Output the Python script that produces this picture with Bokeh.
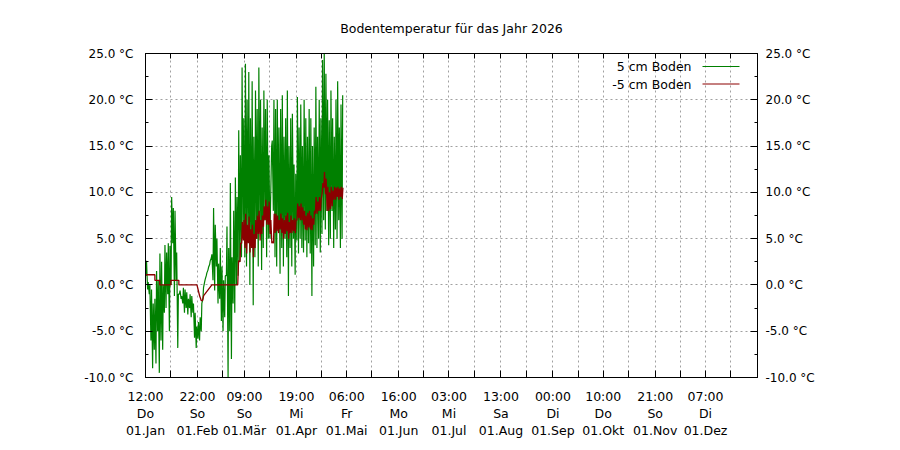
from bokeh.plotting import figure
from bokeh.models import (LinearAxis, FixedTicker, Range1d, Label, Arrow, Grid,
                          ColumnDataSource)
from bokeh.embed import file_html
from bokeh.resources import INLINE

title_text = "Bodentemperatur für das Jahr 2026"

# x axis: day of year (0 = 01.Jan 00:00)
month_days = [0, 31, 59, 90, 120, 151, 181, 212, 243, 273, 304, 334]
mid_days = [15, 46, 74, 105, 135, 166, 196, 227, 258, 288, 319, 349]
tick_labels = [
    "12:00\nDo\n01.Jan", "22:00\nSo\n01.Feb", "09:00\nSo\n01.Mär",
    "19:00\nMi\n01.Apr", "06:00\nFr\n01.Mai", "16:00\nMo\n01.Jun",
    "03:00\nMi\n01.Jul", "13:00\nSa\n01.Aug", "00:00\nDi\n01.Sep",
    "10:00\nDo\n01.Okt", "21:00\nSo\n01.Nov", "07:00\nDi\n01.Dez",
]
y_ticks = [-10, -5, 0, 5, 10, 15, 20, 25]
y_minor = [-7.5, -2.5, 2.5, 7.5, 12.5, 17.5, 22.5]
y_labels = ["-10.0 °C", "-5.0 °C", "0.0 °C", "5.0 °C", "10.0 °C",
            "15.0 °C", "20.0 °C", "25.0 °C"]

series_names = ["5 cm Boden", "-5 cm Boden"]

# 5 cm Boden: daily low / high (day 0 .. 117)
g_lo = [1.0, -0.5, -1.0, -6.0, -9.0, -7.0, -8.5, -5.0, -9.5, -6.0,
        -7.0, -3.0, -2.5, -1.0, -5.0, 0.0, 4.5, -1.2, 0.5, -6.8,
        -1.0, -1.5, -2.0, -3.0, -2.5, -3.2, -2.5, -3.5, -3.0, -5.7,
        -6.8, -5.8, -6.0, -5.0, -1.5, 0.3, 1.0, 1.6, 2.2, 2.9,
        0.5, -0.6, 2.0, -2.0, -1.5, -3.9, -5.0, -3.5, 1.0, -10.0,
        -5.0, -8.0, -2.0, -3.0, 0.0, 1.0, 2.5, 3.0, 5.0, 3.0,
        2.0, 5.0, 0.0, 4.0, -2.2, 3.0, 5.0, 2.0, 6.0, 1.6,
        4.0, 7.0, 3.0, 5.0, 5.0, 15.0, 8.0, 3.0, 2.0, 6.0,
        1.2, 4.0, 2.0, 5.0, 3.0, -1.2, 4.0, 2.0, 5.0, 1.1,
        4.8, 3.4, 5.0, 4.0, 3.5, 4.8, 3.0, 4.5, 3.4, -1.2,
        2.0, 4.3, 4.0, 5.0, 3.5, 5.5, 7.0, 6.0, 8.0, 4.3,
        5.0, 8.0, 4.0, 6.0, 5.0, 7.0, 4.0, 5.0]
g_hi = [2.6, 0.3, 0.0, -0.5, -2.0, -1.5, 1.5, 0.5, 3.4, 2.5,
        0.0, 4.3, 3.5, 4.5, 4.2, 9.5, 8.3, 8.0, 3.5, -1.0,
        -0.6, -1.2, -0.3, -0.5, -0.8, -1.5, -1.0, -1.2, -2.0, -3.0,
        -4.5, -4.0, -3.5, -2.0, -0.3, 0.6, 1.3, 1.9, 2.6, 3.3,
        8.3, 6.5, 5.0, 2.3, 4.0, 2.0, 0.5, 1.0, 6.3, 4.0,
        11.0, 3.0, 8.0, 11.6, 9.5, 16.7, 14.0, 23.5, 18.0, 23.9,
        20.0, 23.0, 18.0, 22.0, 16.0, 21.0, 19.0, 23.5, 20.0, 17.0,
        21.0, 19.0, 20.0, 14.0, 9.0, 15.6, 20.0, 19.0, 20.0, 17.0,
        19.0, 20.5, 16.0, 18.0, 21.0, 15.0, 18.0, 18.5, 13.0, 12.0,
        20.3, 17.0, 19.5, 15.0, 20.0, 18.0, 16.0, 19.0, 18.0, 15.0,
        17.0, 21.4, 16.0, 20.0, 18.0, 24.3, 25.0, 22.8, 20.0, 17.8,
        21.0, 18.0, 16.0, 20.0, 22.0, 17.0, 19.5, 20.5]

# -5 cm Boden: stepped part (day, value), then daily low / high from day 56
r_step_days = [0, 5.6, 5.6, 8.5, 8.5, 15.1, 15.1, 19.9, 19.9, 30.7, 31.5,
               32.3, 33.3, 34.0, 34.7, 39.6, 55.0, 55.5]
r_step_vals = [1.1, 1.1, 0.5, 0.5, 0.0, 0.0, 0.5, 0.5, 0.0, 0.0, -0.6,
               -1.2, -1.7, -1.7, -1.15, 0.0, 0.0, 2.6]
r_first_day = 56
r_lo = [2.5, 4.5, 4.8, 4.0, 3.4, 4.5, 3.5, 4.0, 3.0, 4.0,
        5.0, 5.5, 4.8, 5.5, 6.3, 7.0, 6.5, 6.5, 5.5, 4.5,
        4.5, 5.6, 5.8, 5.6, 6.0, 5.6, 5.0, 5.5, 5.8, 5.0,
        5.6, 5.6, 5.8, 5.6, 7.0, 7.2, 7.0, 7.0, 6.5, 6.0,
        5.9, 6.2, 6.0, 5.9, 6.5, 7.7, 7.7, 8.0, 8.0, 9.9,
        10.5, 9.8, 8.0, 8.0, 8.2, 8.5, 9.2, 9.2, 9.5, 9.2,
        9.5, 9.3]
r_hi = [4.5, 6.8, 7.0, 7.7, 6.5, 7.4, 6.0, 6.5, 5.5, 7.0,
        7.5, 8.0, 7.0, 7.5, 8.5, 9.2, 8.5, 9.0, 7.0, 4.7,
        7.7, 7.7, 7.5, 7.0, 7.7, 7.2, 7.0, 7.5, 7.8, 6.8,
        7.5, 7.0, 7.2, 7.0, 8.8, 8.5, 8.8, 8.4, 8.0, 7.5,
        7.8, 8.0, 7.5, 7.2, 8.0, 9.5, 9.0, 9.5, 9.2, 11.0,
        12.2, 11.5, 10.6, 10.0, 10.6, 10.2, 10.6, 10.5, 10.6, 10.4,
        10.6, 10.5]

GREEN = "#008000"
RED = "#8b0000"
FONT = "DejaVu Sans"

# build series
gx, gy = [], []
for i, (lo, hi) in enumerate(zip(g_lo, g_hi)):
    gx += [i + 0.25, i + 0.6]
    gy += [lo, hi]
rx, ry = list(r_step_days), list(r_step_vals)
for i, (lo, hi) in enumerate(zip(r_lo, r_hi)):
    d = r_first_day + i
    rx += [d + 0.35, d + 0.75]
    ry += [lo, hi]

green_src = ColumnDataSource(dict(x=gx, y=gy))
red_src = ColumnDataSource(dict(x=rx, y=ry))

p = figure(frame_width=612, frame_height=324,
           x_range=Range1d(0, 365), y_range=Range1d(-10, 25),
           x_axis_type=None, y_axis_type=None,
           output_backend="svg", toolbar_location=None,
           min_border_left=145, min_border_right=135,
           min_border_top=53, min_border_bottom=65,
           title=title_text)
p.background_fill_color = "white"
p.border_fill_color = "white"
p.outline_line_color = "black"
p.outline_line_width = 1
p.title.align = "center"
p.title.text_font = FONT
p.title.text_font_size = "12.5px"
p.title.text_font_style = "normal"
p.title.text_color = "black"
p.title.standoff = 35

x_ticker = FixedTicker(ticks=month_days, minor_ticks=mid_days)
y_ticker = FixedTicker(ticks=y_ticks, minor_ticks=y_minor)

# grids
p.add_layout(Grid(dimension=0, ticker=x_ticker,
                  grid_line_color="#a0a0a0", grid_line_dash="2 3",
                  minor_grid_line_color="#a0a0a0", minor_grid_line_dash="2 3"))
p.add_layout(Grid(dimension=1, ticker=FixedTicker(ticks=y_ticks),
                  grid_line_color="#a0a0a0", grid_line_dash="2 3"))


def style_axis(ax, label_size="12px"):
    ax.axis_line_color = "black"
    ax.major_tick_line_color = "black"
    ax.minor_tick_line_color = "black"
    ax.major_tick_out = 0
    ax.minor_tick_out = 0
    ax.major_label_text_font = FONT
    ax.major_label_text_font_size = label_size
    ax.major_label_text_color = "black"


bottom = LinearAxis(ticker=x_ticker,
                    major_label_overrides={d: t for d, t in zip(month_days, tick_labels)})
style_axis(bottom, "12.5px")
bottom.major_tick_in = 7
bottom.minor_tick_in = 7
bottom.major_label_standoff = 11
bottom.major_label_text_line_height = 1.15
p.add_layout(bottom, "below")

top = LinearAxis(ticker=x_ticker,
                 major_label_overrides={d: "" for d in month_days})
style_axis(top, "0px")
top.major_tick_in = 5
top.minor_tick_in = 5
top.major_label_standoff = 0
p.add_layout(top, "above")

left = LinearAxis(ticker=y_ticker,
                  major_label_overrides={v: t for v, t in zip(y_ticks, y_labels)})
style_axis(left)
left.major_tick_in = 7
left.minor_tick_in = 3
left.major_label_standoff = 12
p.add_layout(left, "left")

right = LinearAxis(ticker=y_ticker,
                   major_label_overrides={v: t for v, t in zip(y_ticks, y_labels)})
style_axis(right)
right.major_tick_in = 7
right.minor_tick_in = 3
right.major_label_standoff = 8
p.add_layout(right, "right")

p.line("x", "y", source=green_src, line_color=GREEN, line_width=1.2)
p.line("x", "y", source=red_src, line_color=RED, line_width=1.3)

# legend (text, then sample line)
for k, (name, col) in enumerate(zip(series_names, [GREEN, RED])):
    yy = 311 - 17.5 * k
    p.add_layout(Label(x=546, y=yy, x_units="screen", y_units="screen",
                       text=name, text_align="right", text_baseline="middle",
                       text_font=FONT, text_font_size="12.5px", text_color="black"))
    p.add_layout(Arrow(end=None, x_start=557, y_start=yy, x_end=594, y_end=yy,
                       start_units="screen", end_units="screen",
                       line_color=col, line_width=1))

open("out.html", "w").write(file_html(p, INLINE))
